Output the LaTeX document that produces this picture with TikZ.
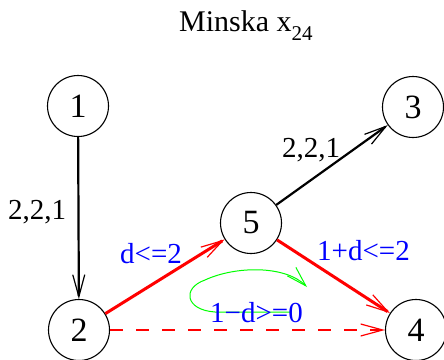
\documentclass[tikz,border=0pt]{standalone}
\usepackage{fontspec}
\setmainfont{Liberation Serif}
\usetikzlibrary{arrows.meta}
\definecolor{lblue}{RGB}{0,0,255}
\definecolor{lred}{RGB}{255,0,0}
\definecolor{lgreen}{RGB}{0,255,0}
\tikzset{
  vertex/.style={circle, draw=black, line width=1.1pt, minimum size=61pt, inner sep=0pt, font=\fontsize{34}{36}\selectfont},
  tip/.style={-{Straight Barb[length=22pt,width=12pt,line width=1.2pt]}},
  blackedge/.style={tip, draw=black, line width=2.2pt},
  rededge/.style={tip, draw=lred, line width=3pt},
  dashedge/.style={tip, draw=lred, line width=1.2pt, dash pattern=on 13pt off 13pt},
  lbl/.style={anchor=base west, inner sep=0pt, font=\fontsize{29}{31}\selectfont},
  bluelbl/.style={lbl, text=lblue}
}
\begin{document}
\begin{tikzpicture}[x=1pt,y=-1pt]
\useasboundingbox (0,0) rectangle (444,359);
\node[anchor=base west, inner sep=0pt, font=\fontsize{30}{32}\selectfont] (title) at (179,31)
  {Minska x\raisebox{-9pt}{\fontsize{21}{22}\selectfont 24}};
\node[vertex] (n1) at (78,106) {1};
\node[vertex] (n2) at (79,330) {2};
\node[vertex] (n3) at (413,107) {3};
\node[vertex] (n4) at (416,330) {4};
\node[vertex] (n5) at (251,223) {5};
\draw[blackedge] (n1) -- (n2);
\draw[blackedge] (n5) -- (n3);
\draw[rededge] (n2) -- (n5);
\draw[rededge] (n5) -- (n4);
\draw[dashedge] (n2) -- (n4);
\coordinate (gs) at (290,312);
\coordinate (ge) at (307,287);
\draw[lgreen, line width=1pt, -{Straight Barb[length=20pt,width=12pt,line width=1pt]}]
  (gs) -- (215,312) .. controls (185,310) and (182,288) .. (205,280)
  .. controls (235,266) and (285,265) .. (ge);
\node[lbl] (l12) at (8,219) {2,2,1};
\node[lbl] (l53) at (282,157) {2,2,1};
\node[bluelbl] (l25) at (120,263) {d<=2};
\node[bluelbl] (l54) at (317,260) {1+d<=2};
\node[bluelbl] (lc) at (210,322) {1−d>=0};
\end{tikzpicture}
\end{document}
